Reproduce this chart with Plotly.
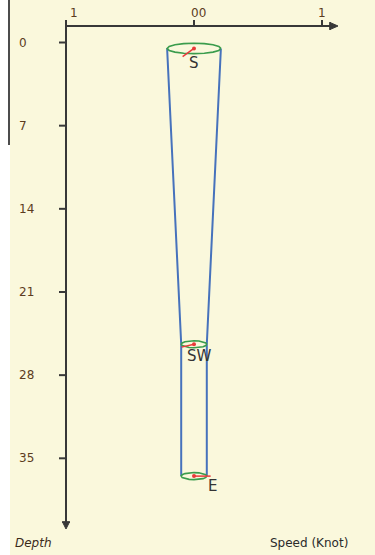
import numpy as np
import plotly.graph_objects as go

# ---- data ----
depths = [0.5, 25.4, 36.5]            # depth of each measurement
speeds = [0.21, 0.10, 0.10]           # speed (knot) -> radius of each ring
dir_labels = ["S", "SW", "E"]
arrow_angle = [234, 257, 90]          # drawn direction of the red arrow (deg)
arrow_len = [0.11, 0.10, 0.13]        # arrow length (knot units)
depth_ticks = [0, 7, 14, 21, 28, 35]
depth_tick_text = ["0", "7", "14", "21", "28", "35"]
speed_ticks = [-1, 0, 1]
speed_tick_text = ["1", "00", "1"]

# ---- pixel <-> data helpers (layout only) ----
W, H = 375, 555
PX0, PXU = 66, 128.0      # pixel of speed -1, px per knot
PY0, PYU = 42.5, 11.88    # pixel of depth 0, px per depth unit


def X(px):
    return -1 + (px - PX0) / PXU


def Y(py):
    return (py - PY0) / PYU


fig = go.Figure()

BG = "#faf8dc"
AX = "#383838"
shapes = []
# background
shapes.append(dict(type="rect", xref="x", yref="y", x0=X(10), x1=X(376), y0=Y(-1), y1=Y(556),
                   fillcolor=BG, line=dict(width=0), layer="below"))
shapes.append(dict(type="line", xref="x", yref="y", x0=X(9), x1=X(9), y0=Y(0), y1=Y(145),
                   line=dict(color="#111", width=1.5)))

# axes
x_axis_py = 26
shapes.append(dict(type="line", x0=X(PX0), x1=X(PX0), y0=Y(20), y1=Y(523), line=dict(color=AX, width=2)))
shapes.append(dict(type="line", x0=X(PX0), x1=X(331), y0=Y(x_axis_py), y1=Y(x_axis_py), line=dict(color=AX, width=2)))
for d in depth_ticks:
    shapes.append(dict(type="line", x0=X(59), x1=X(PX0), y0=d, y1=d, line=dict(color=AX, width=2)))
for s in speed_ticks:
    shapes.append(dict(type="line", x0=s, x1=s, y0=Y(20), y1=Y(x_axis_py), line=dict(color=AX, width=2)))
# arrowheads
shapes.append(dict(type="line", x0=X(330), x1=X(330), y0=Y(22), y1=Y(30), line=dict(color=AX, width=1.5)))
shapes.append(dict(type="path",
                   path=f"M {X(330)},{Y(22.5)} L {X(338)},{Y(26)} L {X(330)},{Y(29.5)} Z",
                   fillcolor=AX, line=dict(color=AX, width=1)))
shapes.append(dict(type="line", x0=X(62), x1=X(70), y0=Y(522), y1=Y(522), line=dict(color=AX, width=1.5)))
shapes.append(dict(type="path",
                   path=f"M {X(62.5)},{Y(522)} L {X(66)},{Y(529)} L {X(69.5)},{Y(522)} Z",
                   fillcolor=AX, line=dict(color=AX, width=1)))

# ---- blue outline of the profile ----
BLUE = "#4672bc"
for side in (-1, 1):
    xs = [side * s for s in speeds]
    ys = list(depths)
    fig.add_trace(go.Scatter(x=xs, y=ys, mode="lines", line=dict(color=BLUE, width=2),
                             hoverinfo="skip", showlegend=False))

# ---- rings ----
GREEN = "#3a9c4c"
t = np.linspace(0, 2 * np.pi, 17)
for d, s in zip(depths, speeds):
    rpx = s * PXU
    hpx = 0.12 * rpx + 2.0
    fig.add_trace(go.Scatter(x=s * np.cos(t), y=d + (hpx / PYU) * np.sin(t), mode="lines",
                             line=dict(color=GREEN, width=1.6), hoverinfo="skip", showlegend=False))

# ---- direction arrows ----
RED = "#e83a3a"
for d, a, L in zip(depths, arrow_angle, arrow_len):
    th = np.radians(a)
    dx = L * np.sin(th)
    dy_px = -L * PXU * np.cos(th)
    fig.add_trace(go.Scatter(x=[0, dx], y=[d, d + dy_px / PYU], mode="lines",
                             line=dict(color=RED, width=1.5), hoverinfo="skip", showlegend=False))
    fig.add_trace(go.Scatter(x=[0], y=[d], mode="markers",
                             marker=dict(color=RED, size=4), hoverinfo="skip", showlegend=False))

annotations = []
TICKC = "#5c3c1e"
FONT = "DejaVu Sans"
for d, txt in zip(depth_ticks, depth_tick_text):
    annotations.append(dict(x=X(17), y=d, text=txt, showarrow=False, xanchor="left", yanchor="middle",
                            font=dict(family=FONT, size=12, color=TICKC)))
speed_label_px = [73.5, 198, 322]
for spx, txt in zip(speed_label_px, speed_tick_text):
    annotations.append(dict(x=X(spx), y=Y(13), text=txt, showarrow=False, xanchor="center", yanchor="middle",
                            font=dict(family=FONT, size=12, color=TICKC)))
# direction labels
lab_off = [(0, 15), (5, 12), (18, 10)]
for d, lbl, (ox, oy) in zip(depths, dir_labels, lab_off):
    annotations.append(dict(x=X(194 + ox), y=d + oy / PYU, text=lbl, showarrow=False, xanchor="center",
                            yanchor="middle", font=dict(family=FONT, size=15, color="#333333")))
annotations.append(dict(x=X(13), y=Y(543), text="<i>Depth</i>", showarrow=False, xanchor="left",
                        yanchor="middle", font=dict(family=FONT, size=12, color="#3a2a1a")))
annotations.append(dict(x=X(350), y=Y(543), text="Speed (Knot)", showarrow=False, xanchor="right",
                        yanchor="middle", font=dict(family=FONT, size=12, color="#2a2a2a")))

fig.update_layout(
    width=W, height=H,
    margin=dict(l=0, r=0, t=0, b=0, pad=0),
    paper_bgcolor="white", plot_bgcolor="rgba(0,0,0,0)",
    xaxis=dict(range=[X(0), X(W)], visible=False, fixedrange=True),
    yaxis=dict(range=[Y(H), Y(0)], visible=False, fixedrange=True),
    shapes=shapes, annotations=annotations, showlegend=False,
)
fig.write_html("out.html", config={"displayModeBar": False},
               post_script="document.body.style.margin='0';document.body.style.padding='0';")
